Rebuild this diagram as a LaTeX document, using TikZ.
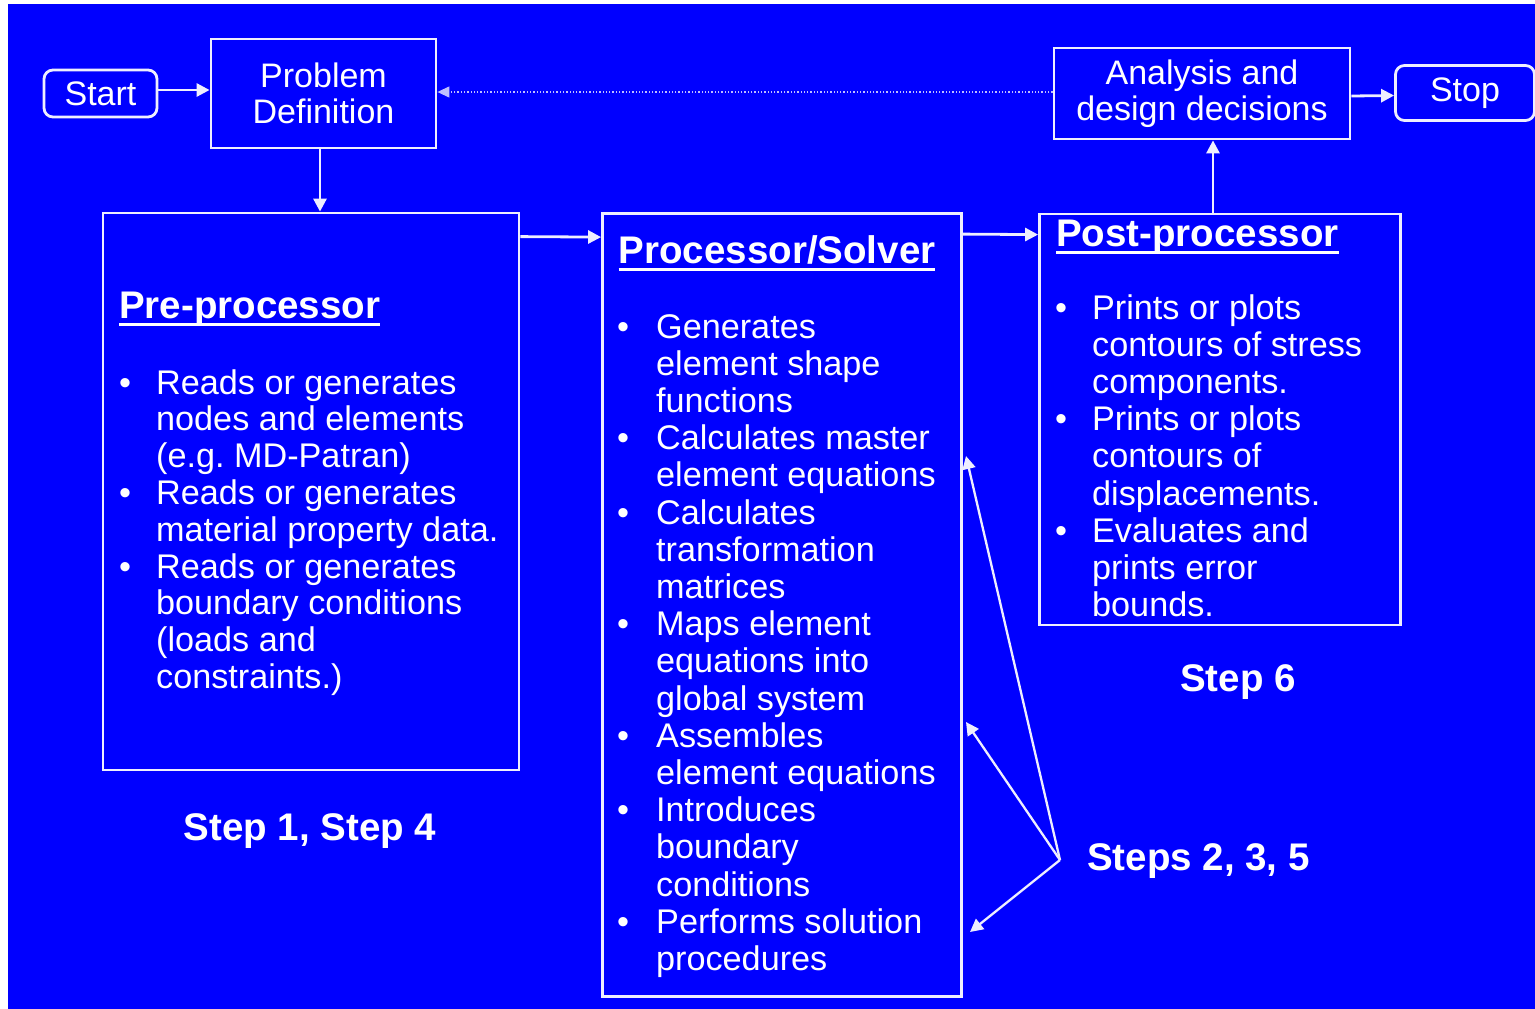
\documentclass[tikz,border=0pt]{standalone}
\usepackage{fontspec}
\setmainfont{Liberation Sans}
\usetikzlibrary{arrows.meta}
\definecolor{bgblue}{RGB}{0,0,255}
\definecolor{linew}{RGB}{238,238,255}
\newcommand{\ulbold}[1]{\setbox0\hbox{\bfseries #1}\rlap{\rule[-8pt]{\wd0}{3pt}}\box0}
\newcommand{\bitem}{\makebox[37pt][l]{•}}
\newcommand{\citem}{\hspace*{37pt}}
\frenchspacing
\begin{document}
\begin{tikzpicture}[x=1pt,y=-1pt,
  box/.style={draw=linew, line width=2.8pt, inner sep=0, text=white,
    font=\fontsize{34}{36}\selectfont, align=center},
  term/.style={box, rounded corners=9pt},
  title/.style={anchor=base west, inner sep=0, text=white, font=\fontsize{38.5}{40}\selectfont},
  listtext/.style={anchor=base west, inner sep=0, text=white},
  steplabel/.style={anchor=base, inner sep=0, text=white, font=\fontsize{38.5}{40}\selectfont\bfseries},
  conn/.style={draw=linew, line width=2.8pt, -{Triangle[length=13pt,width=13pt]}},
  fb/.style={draw=linew!80!bgblue, line width=1.3pt, dotted, -{Triangle[length=12pt,width=11pt]}}
]
\useasboundingbox (0,0) rectangle (1535,1009);
\fill[white] (0,0) rectangle (1535,1009);
\fill[bgblue] (8,4) rectangle (1535,1009);

% top row
\node[term, minimum width=113pt, minimum height=47pt] (start) at (100.5,93.5) {Start};
\node[box, minimum width=225pt, minimum height=109pt] (pd) at (323.5,93.5) {Problem\\Definition};
\node[box, minimum width=296pt, minimum height=91pt] (ad) at (1202,93.5) {Analysis and\\design decisions};
\node[term, minimum width=139pt, minimum height=55pt] (stop) at (1465,93) {Stop};

% main boxes
\node[box, minimum width=416pt, minimum height=557pt] (pre) at (311,491.5) {};
\node[box, minimum width=359pt, minimum height=783pt] (proc) at (782,605) {};
\node[box, minimum width=361pt, minimum height=411pt] (post) at (1220,419.5) {};

% titles
\node[title] (pretitle) at (119,318) {\ulbold{Pre-processor}};
\node[title] (proctitle) at (618.5,263) {\ulbold{Processor/Solver}};
\node[title] (posttitle) at (1056,246) {\ulbold{Post-processor}};

% lists
\node[listtext] (prelist) at (119,394) {\parbox[t]{400pt}{\fontsize{34.2}{36.8}\selectfont
\bitem Reads or generates\\
\citem nodes and elements\\
\citem (e.g. MD-Patran)\\
\bitem Reads or generates\\
\citem material property data.\\
\bitem Reads or generates\\
\citem boundary conditions\\
\citem (loads and\\
\citem constraints.)}};

\node[listtext] (proclist) at (617,338) {\parbox[t]{340pt}{\fontsize{34.2}{37.2}\selectfont
\makebox[39pt][l]{•}Generates\\
\hspace*{39pt}element shape\\
\hspace*{39pt}functions\\
\makebox[39pt][l]{•}Calculates master\\
\hspace*{39pt}element equations\\
\makebox[39pt][l]{•}Calculates\\
\hspace*{39pt}transformation\\
\hspace*{39pt}matrices\\
\makebox[39pt][l]{•}Maps element\\
\hspace*{39pt}equations into\\
\hspace*{39pt}global system\\
\makebox[39pt][l]{•}Assembles\\
\hspace*{39pt}element equations\\
\makebox[39pt][l]{•}Introduces\\
\hspace*{39pt}boundary\\
\hspace*{39pt}conditions\\
\makebox[39pt][l]{•}Performs solution\\
\hspace*{39pt}procedures}};

\node[listtext] (postlist) at (1055,319) {\parbox[t]{340pt}{\fontsize{34.2}{37.2}\selectfont
\bitem Prints or plots\\
\citem contours of stress\\
\citem components.\\
\bitem Prints or plots\\
\citem contours of\\
\citem displacements.\\
\bitem Evaluates and\\
\citem prints error\\
\citem bounds.}};

% step labels
\node[steplabel] (s14) at (310,840) {Step 1, Step 4};
\node[steplabel] (s6) at (1238,691) {Step 6};
\node[steplabel, anchor=base west] (s235) at (1087,870) {Steps 2, 3, 5};

% connectors
\draw[conn] ([yshift=3.5pt]start.east) -- ([yshift=3.5pt]pd.west);
\draw[conn] ([xshift=-3.5pt]pd.south) -- ([xshift=-3.5pt]pre.north -| pd.south);
\draw[conn] ([yshift=-25pt]pre.north east) -- ([yshift=-25pt]proc.north west);
\draw[conn] ([yshift=-22pt]proc.north east) -- ([yshift=-22pt]post.north west);
\draw[conn] (post.north -| 1213,0) -- (ad.south -| 1213,0);
\draw[conn] ([yshift=-2.5pt]ad.east) -- ([yshift=-2.5pt]stop.west);
\draw[fb] ([yshift=1.5pt]ad.west) -- ([yshift=1.5pt]pd.east);

\coordinate (hub) at (1060,860);
\coordinate (t1) at (966,456);
\coordinate (t2) at (966,722);
\coordinate (t3) at (970,932);
\draw[conn, line width=2.3pt] (hub) -- (t1);
\draw[conn, line width=2.3pt] (hub) -- (t2);
\draw[conn, line width=2.3pt] (hub) -- (t3);
\end{tikzpicture}
\end{document}
